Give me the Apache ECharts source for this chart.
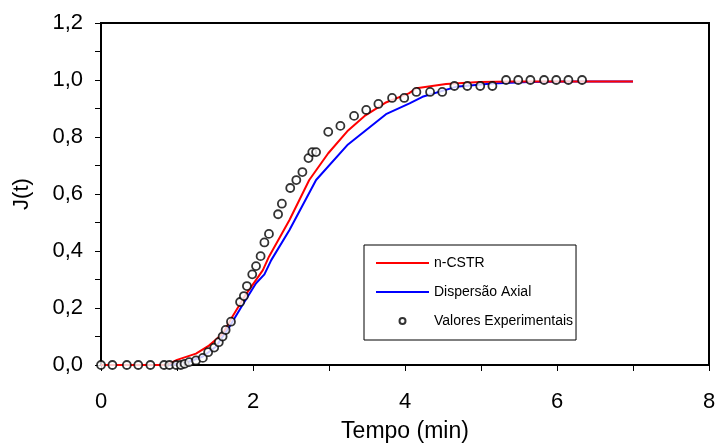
<!DOCTYPE html>
<html>
<head>
<meta charset="utf-8">
<script src="https://cdn.jsdelivr.net/npm/echarts@6/dist/echarts.min.js"></script>
<style>
  html, body { margin: 0; padding: 0; background: #fff; }
  #chart { width: 720px; height: 448px; }
</style>
</head>
<body>
<div id="chart"></div>
<script>
// modelo n-CSTR
const cstrT = [0, 0.87, 1.0, 1.25, 1.42, 1.6, 1.73, 1.9, 2.13, 2.21, 2.48, 2.74, 2.99, 3.24, 3.48, 3.74, 4.05, 4.15, 4.54, 4.98, 5.41, 6.0, 7.0]
const cstrJ = [0, 0, 0.018, 0.04, 0.068, 0.109, 0.17, 0.245, 0.333, 0.38, 0.509, 0.649, 0.743, 0.82, 0.876, 0.92, 0.953, 0.971, 0.986, 0.993, 0.995, 0.995, 0.995]

// modelo de dispersão axial
const dispT = [0, 0.9, 1.12, 1.34, 1.51, 1.69, 1.86, 2.04, 2.15, 2.24, 2.48, 2.83, 3.25, 3.75, 4.06, 4.23, 4.67, 5.15, 5.63, 6.2, 7.0]
const dispJ = [0, 0, 0.008, 0.03, 0.064, 0.134, 0.21, 0.287, 0.318, 0.368, 0.474, 0.649, 0.774, 0.88, 0.918, 0.941, 0.976, 0.988, 0.993, 0.995, 0.995]

// valores experimentais
const expT = [0, 0.15, 0.34, 0.49, 0.65, 0.83, 0.9, 0.99, 1.05, 1.1, 1.16, 1.25, 1.34, 1.41, 1.49, 1.55, 1.6, 1.64, 1.71, 1.83, 1.88, 1.92, 1.99, 2.04, 2.1, 2.15, 2.21, 2.33, 2.38, 2.49, 2.57, 2.65, 2.73, 2.78, 2.83, 2.99, 3.15, 3.33, 3.49, 3.65, 3.83, 3.99, 4.15, 4.33, 4.49, 4.65, 4.82, 4.99, 5.15, 5.33, 5.49, 5.65, 5.83, 5.99, 6.15, 6.33]
const expJ = [0, 0, 0, 0, 0, 0, 0, 0, 0, 0.004, 0.01, 0.016, 0.025, 0.045, 0.061, 0.08, 0.1, 0.123, 0.152, 0.221, 0.242, 0.277, 0.318, 0.347, 0.382, 0.43, 0.46, 0.529, 0.566, 0.621, 0.649, 0.677, 0.726, 0.747, 0.747, 0.818, 0.839, 0.874, 0.895, 0.916, 0.937, 0.937, 0.958, 0.958, 0.958, 0.979, 0.979, 0.979, 0.979, 1.0, 1.0, 1.0, 1.0, 1.0, 1.0, 1.0]

const zip = (a, b) => a.map((v, i) => [v, b[i]])
const fmt = (v) => v.toFixed(1).replace('.', ',')
const font = 'Liberation Sans, Arial, sans-serif'

const chart = echarts.init(document.getElementById('chart'))

const axisCommon = {
  axisLine: { show: true, onZero: false, lineStyle: { color: '#000', width: 2 } },
  axisTick: { show: true, inside: false, length: 6, lineStyle: { color: '#000', width: 1 } },
  minorTick: { show: true, splitNumber: 2, length: 6, lineStyle: { color: '#000', width: 1 } },
  splitLine: { show: false },
}

chart.setOption({
  animation: false,
  backgroundColor: '#fff',
  grid: {
    left: 101, right: 11, top: 23, bottom: 83,
    show: true, borderColor: '#000', borderWidth: 2,
  },
  legend: {
    orient: 'vertical',
    left: 364, top: 245,
    padding: [11, 3, 12, 11],
    itemWidth: 53, itemHeight: 6, itemGap: 15,
    backgroundColor: '#fff',
    borderColor: '#000', borderWidth: 1, borderRadius: 0,
    textStyle: { fontFamily: font, fontSize: 14, color: '#000' },
    data: [
      { name: 'n-CSTR', itemStyle: { opacity: 0 } },
      { name: 'Dispersão Axial', itemStyle: { opacity: 0 } },
      { name: 'Valores Experimentais' },
    ],
  },
  xAxis: {
    type: 'value', min: 0, max: 8, interval: 2,
    name: 'Tempo (min)', nameLocation: 'middle', nameGap: 55,
    nameTextStyle: { fontFamily: font, fontSize: 23, color: '#000' },
    axisLabel: { fontFamily: font, fontSize: 22, color: '#000', margin: 26 },
    ...axisCommon,
  },
  yAxis: {
    type: 'value', min: 0, max: 1.2, interval: 0.2,
    name: 'J(t)', nameLocation: 'middle', nameGap: 68,
    nameTextStyle: { fontFamily: font, fontSize: 22, color: '#000' },
    axisLabel: { fontFamily: font, fontSize: 22, color: '#000', margin: 18, formatter: fmt },
    ...axisCommon,
  },
  series: [
    {
      name: 'n-CSTR', type: 'line', data: zip(cstrT, cstrJ),
      showSymbol: false, symbol: 'none', z: 3,
      lineStyle: { color: '#ff0000', width: 2 }, itemStyle: { color: '#ff0000' },
    },
    {
      name: 'Dispersão Axial', type: 'line', data: zip(dispT, dispJ),
      showSymbol: false, symbol: 'none', z: 2,
      lineStyle: { color: '#0000ff', width: 2 }, itemStyle: { color: '#0000ff' },
    },
    {
      name: 'Valores Experimentais', type: 'scatter', data: zip(expT, expJ),
      symbol: 'circle', symbolSize: 8, z: 4,
      itemStyle: { color: '#fff', borderColor: '#000', borderWidth: 1.8 },
    },
  ],
})
</script>
</body>
</html>
